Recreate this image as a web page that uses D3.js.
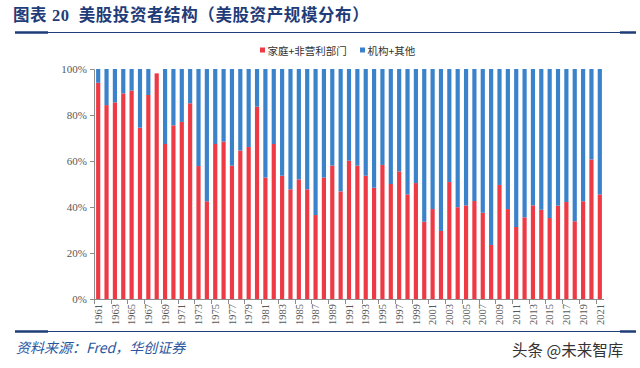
<!DOCTYPE html>
<html>
<head>
<meta charset="utf-8">
<script src="https://cdn.jsdelivr.net/npm/d3@7"></script>
<style>
  body { margin: 0; background: #fff; }
  svg { display: block; }
</style>
</head>
<body>
<svg id="chart" width="640" height="368"></svg>
<script>
// categories
var years = d3.range(1961, 2022)
// 家庭+非营利部门 (%)
var household = [
  94.0, 84.3, 85.5, 89.4, 90.6, 74.5, 88.7, 98.1, 67.4, 75.5,
  77.0, 85.1, 57.8, 42.5, 67.4, 68.4, 58.0, 64.5, 66.1, 83.6,
  52.8, 67.4, 53.6, 47.7, 52.0, 47.7, 36.5, 52.8, 58.0, 46.8,
  60.1, 58.0, 53.6, 48.4, 58.3, 50.0, 55.5, 45.5, 50.4, 33.6,
  39.1, 29.6, 50.9, 39.9, 40.7, 42.6, 37.5, 23.5, 49.6, 39.1,
  31.3, 35.5, 40.7, 38.8, 35.2, 40.6, 42.2, 33.8, 42.5, 60.7,
  45.5
]
// 机构+其他 (%)
var institution = [
  6.0, 15.7, 14.5, 10.6, 9.4, 25.5, 11.3, 0, 32.6, 24.5,
  23.0, 14.9, 42.2, 57.5, 32.6, 31.6, 42.0, 35.5, 33.9, 16.4,
  47.2, 32.6, 46.4, 52.3, 48.0, 52.3, 63.5, 47.2, 42.0, 53.2,
  39.9, 42.0, 46.4, 51.6, 41.7, 50.0, 44.5, 54.5, 49.6, 66.4,
  60.9, 70.4, 49.1, 60.1, 59.3, 57.4, 62.5, 76.5, 50.4, 60.9,
  68.7, 64.5, 59.3, 61.2, 64.8, 59.4, 57.8, 66.2, 57.5, 39.3,
  54.5
]
var seriesNames = ['家庭+非营利部门', '机构+其他']
var yTicks = [0, 20, 40, 60, 80, 100]

;(function () {
  var svg = d3.select('#chart')
  var navy = '#1f3c78'
  var colors = ['#ee3a45', '#3a83cb']
  var serif = '"Liberation Serif", "Noto Sans CJK SC", serif'
  var cjk = '"Noto Sans CJK SC", sans-serif'

  /*
      --------------------------------------
      Header / footer
  */
  var title = svg.append('text')
      .attr('x', 13)
      .attr('y', 21)
      .style('font-family', serif)
      .style('font-weight', 'bold')
      .style('font-size', '16.5px')
      .style('letter-spacing', '0.6px')
      .style('fill', navy)
  title.append('tspan').text('图表 20')
  title.append('tspan').attr('dx', 9).text('美股投资者结构（美股资产规模分布）')

  function rule (y) {
    svg.append('line')
        .attr('x1', 15).attr('x2', 636)
        .attr('y1', y).attr('y2', y)
        .style('stroke', navy).style('stroke-width', 1)
    svg.append('line')
        .attr('x1', 15).attr('x2', 48)
        .attr('y1', y).attr('y2', y)
        .style('stroke', navy).style('stroke-width', 2.5)
    svg.append('line')
        .attr('x1', 620).attr('x2', 636)
        .attr('y1', y).attr('y2', y)
        .style('stroke', navy).style('stroke-width', 2.5)
  }
  rule(32.5)
  rule(331.5)

  svg.append('text')
      .attr('x', 16)
      .attr('y', 353)
      .style('font-family', cjk)
      .style('font-style', 'italic')
      .style('font-size', '14px')
      .style('fill', '#2a56a0')
      .text('资料来源：Fred，华创证券')

  svg.append('text')
      .attr('x', 512)
      .attr('y', 356)
      .style('font-family', cjk)
      .style('font-size', '15.5px')
      .style('fill', '#333')
      .text('头条 @未来智库')

  /*
      --------------------------------------
      Scales
  */
  var rows = years.map(function (y, i) {
    return {year: y, a: household[i], b: institution[i]}
  })
  var stacked = d3.stack().keys(['a', 'b'])(rows)

  var mapx = d3.scaleBand()
      .domain(years)
      .range([94, 604])
      .paddingInner(0.5)
      .paddingOuter(0.25)

  var mapy = d3.scaleLinear()
      .domain([0, 100])
      .range([299, 69])

  /*
      --------------------------------------
      Bars
  */
  svg.append('g').selectAll('g')
      .data(stacked)
      .join('g')
      .style('fill', function (d, i) { return colors[i] })
      .selectAll('rect')
      .data(function (d) { return d })
      .join('rect')
      .attr('x', function (d) { return mapx(d.data.year) })
      .attr('width', mapx.bandwidth())
      .attr('y', function (d) { return mapy(d[1]) })
      .attr('height', function (d) { return mapy(d[0]) - mapy(d[1]) })

  /*
      --------------------------------------
      Axis Y
  */
  var yAxis = d3.axisLeft(mapy)
      .tickValues(yTicks)
      .tickFormat(function (d) { return d + '%' })
      .tickSize(4)
      .tickPadding(3)

  var gy = svg.append('g')
      .attr('transform', 'translate(94,0)')
      .call(yAxis)
  gy.select('.domain').style('stroke', '#8c8c8c')
  gy.selectAll('line').style('stroke', '#8c8c8c')
  gy.selectAll('text')
      .style('font-family', serif)
      .style('font-size', '11px')
      .style('fill', '#595959')

  /*
      --------------------------------------
      Axis X
  */
  var step = mapx.step()
  var x0 = 94
  var gx = svg.append('g')
  gx.append('line')
      .attr('x1', x0).attr('x2', 604)
      .attr('y1', 299.5).attr('y2', 299.5)
      .style('stroke', '#8c8c8c')

  gx.selectAll('.tick')
      .data(years.filter(function (d, i) { return i % 2 === 0 }))
      .join('line')
      .attr('class', 'tick')
      .attr('x1', function (d) { return Math.round(x0 + (d - years[0]) * step) + 0.5 })
      .attr('x2', function (d) { return Math.round(x0 + (d - years[0]) * step) + 0.5 })
      .attr('y1', 299.5).attr('y2', 304)
      .style('stroke', '#8c8c8c')

  gx.selectAll('.lbl')
      .data(years.filter(function (d, i) { return i % 2 === 0 }))
      .join('text')
      .attr('class', 'lbl')
      .attr('transform', function (d) {
        return 'translate(' + (mapx(d) + mapx.bandwidth() / 2) + ',304) rotate(-90)'
      })
      .attr('dy', '0.35em')
      .style('text-anchor', 'end')
      .style('font-family', serif)
      .style('font-size', '10.5px')
      .style('fill', '#595959')
      .text(function (d) { return d })

  /*
      --------------------------------------
      Legend
  */
  var legend = svg.append('g')
  var lx = [260, 360]
  seriesNames.forEach(function (name, i) {
    legend.append('rect')
        .attr('x', lx[i]).attr('y', 47.5)
        .attr('width', 5).attr('height', 5)
        .style('fill', colors[i])
    legend.append('text')
        .attr('x', lx[i] + 7.5)
        .attr('y', 51)
        .attr('dy', '0.35em')
        .style('font-family', cjk)
        .style('font-size', '10.5px')
        .style('fill', '#333')
        .text(name)
  })
})()
</script>
</body>
</html>
